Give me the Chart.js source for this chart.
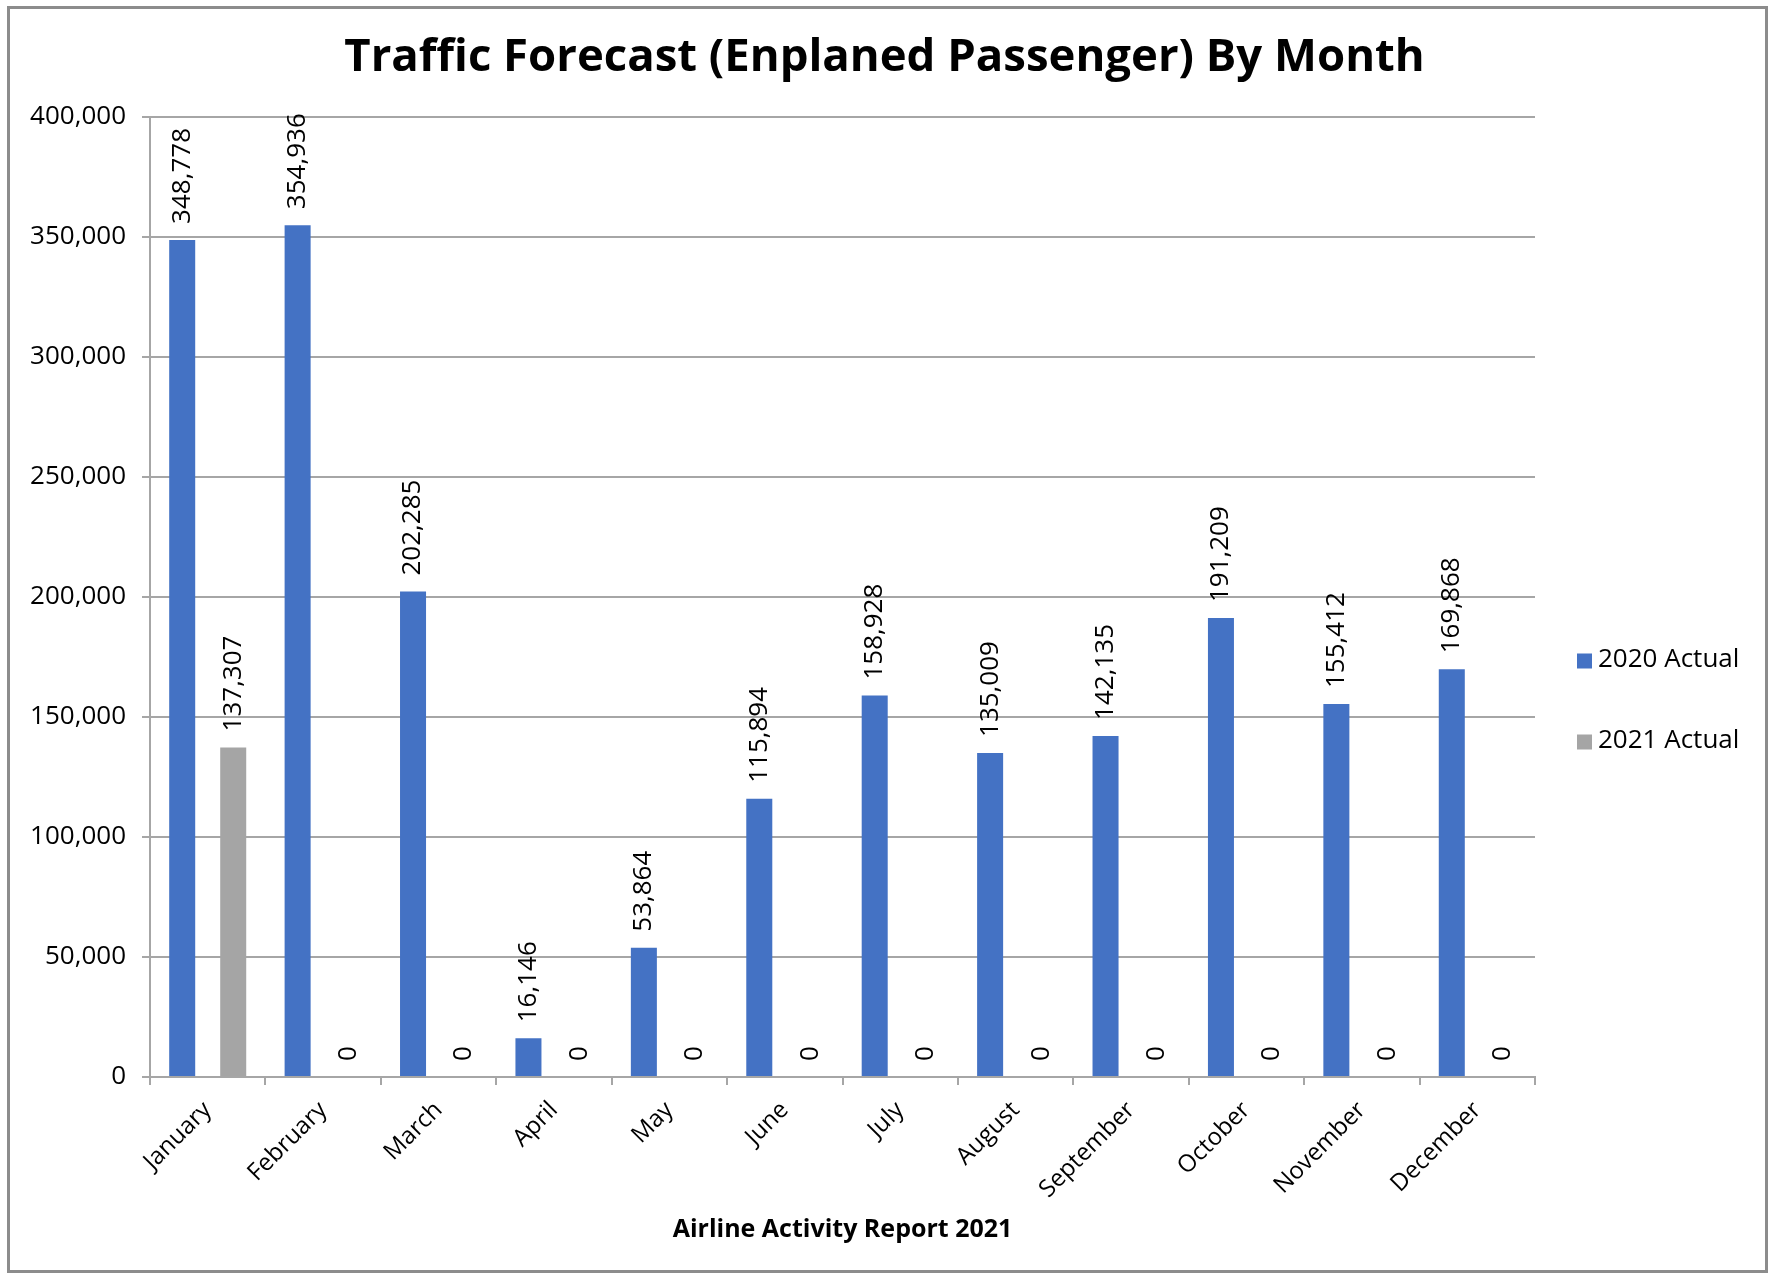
<!DOCTYPE html>
<html>
<head>
<meta charset="utf-8">
<script src="https://cdn.jsdelivr.net/npm/chart.js@4.4.1/dist/chart.umd.min.js"></script>
<style>
  html, body { margin: 0; padding: 0; background: #ffffff; }
  #wrap { width: 1769px; height: 1273px; position: relative; }
  canvas { display: block; }
</style>
</head>
<body>
<div id="wrap"><canvas id="c" width="1769" height="1273"></canvas></div>
<script>
// ---- data ----
const months = ['January', 'February', 'March', 'April', 'May', 'June', 'July', 'August', 'September', 'October', 'November', 'December'];
const seriesNames = ['2020 Actual', '2021 Actual'];
const actual2020 = [348778, 354936, 202285, 16146, 53864, 115894, 158928, 135009, 142135, 191209, 155412, 169868];
const actual2021 = [137307, 0, 0, 0, 0, 0, 0, 0, 0, 0, 0, 0];
const yTicks = [0, 50000, 100000, 150000, 200000, 250000, 300000, 350000, 400000];

const FONT = "'Open Sans', 'Noto Sans', sans-serif";
const fmt = v => v.toLocaleString('en-US');

const framePlugin = {
  id: 'frame',
  beforeDraw(chart) {
    const ctx = chart.ctx;
    ctx.save();
    ctx.fillStyle = '#ffffff';
    ctx.fillRect(0, 0, chart.width, chart.height);
    ctx.strokeStyle = '#8c8c8c';
    ctx.lineWidth = 3;
    ctx.strokeRect(8.5, 7.5, chart.width - 11, chart.height - 9);
    ctx.restore();
  }
};

const valueLabels = {
  id: 'valueLabels',
  afterDatasetsDraw(chart) {
    const ctx = chart.ctx;
    ctx.save();
    ctx.font = '26px ' + FONT;
    ctx.fillStyle = '#000000';
    ctx.textAlign = 'left';
    ctx.textBaseline = 'middle';
    chart.data.datasets.forEach((ds, i) => {
      const meta = chart.getDatasetMeta(i);
      meta.data.forEach((bar, j) => {
        ctx.save();
        ctx.translate(bar.x, bar.y - 16);
        ctx.rotate(-Math.PI / 2);
        ctx.fillText(fmt(ds.data[j]), 0, 0);
        ctx.restore();
      });
    });
    ctx.restore();
  }
};

const sideLegend = {
  id: 'sideLegend',
  afterDraw(chart) {
    const ctx = chart.ctx;
    const area = chart.chartArea;
    const x0 = area.right + 42;
    const yStart = 661, step = 81, box = 15;
    ctx.save();
    ctx.font = '26px ' + FONT;
    ctx.textAlign = 'left';
    ctx.textBaseline = 'middle';
    chart.data.datasets.forEach((ds, i) => {
      const y = yStart + i * step;
      ctx.fillStyle = ds.backgroundColor;
      ctx.fillRect(x0, y - box / 2, box, box);
      ctx.fillStyle = '#000000';
      ctx.fillText(ds.label, x0 + 21, y - 1);
    });
    ctx.restore();
  }
};

new Chart(document.getElementById('c'), {
  type: 'bar',
  data: {
    labels: months,
    datasets: [
      { label: seriesNames[0], data: actual2020, backgroundColor: '#4472C4' },
      { label: seriesNames[1], data: actual2021, backgroundColor: '#A5A5A5' }
    ]
  },
  options: {
    responsive: false,
    animation: false,
    devicePixelRatio: 1,
    categoryPercentage: 0.884,
    barPercentage: 0.51,
    layout: { padding: { left: 0, right: 0, top: 0, bottom: 0 } },
    plugins: {
      legend: { display: false },
      tooltip: { enabled: false },
      title: {
        display: true,
        text: 'Traffic Forecast (Enplaned Passenger) By Month',
        color: '#000000',
        font: { family: FONT, size: 45.5, weight: 'bold' },
        padding: { top: 31, bottom: 31.4 }
      }
    },
    scales: {
      x: {
        afterFit(scale) { scale.height = 196; },
        grid: { display: true, drawOnChartArea: false, drawTicks: true, tickLength: 8, color: '#a6a6a6', lineWidth: 2, offset: true },
        border: { display: true, color: '#a6a6a6', width: 2 },
        ticks: {
          autoSkip: false, minRotation: 45, maxRotation: 45, padding: 11,
          color: '#000000', font: { family: FONT, size: 24 }
        },
        title: {
          display: true, text: 'Airline Activity Report 2021', color: '#000000',
          font: { family: FONT, size: 25, weight: 'bold' },
          padding: { top: 0, bottom: 28 }
        }
      },
      y: {
        min: 0, max: 400000,
        afterFit(scale) { scale.width = 150; },
        afterBuildTicks(scale) { scale.ticks = yTicks.map(v => ({ value: v })); },
        grid: { color: '#a6a6a6', lineWidth: 2, drawTicks: true, tickLength: 8 },
        border: { display: true, color: '#a6a6a6', width: 2 },
        ticks: {
          padding: 16, color: '#000000', font: { family: FONT, size: 26 },
          callback: v => fmt(v)
        }
      },
      legendSpace: {
        type: 'linear', position: 'right', display: true,
        afterFit(scale) { scale.width = 234; },
        grid: { display: false, drawOnChartArea: false, drawTicks: false },
        border: { display: false },
        ticks: { display: false }
      }
    }
  },
  plugins: [framePlugin, valueLabels, sideLegend]
});
</script>
</body>
</html>
